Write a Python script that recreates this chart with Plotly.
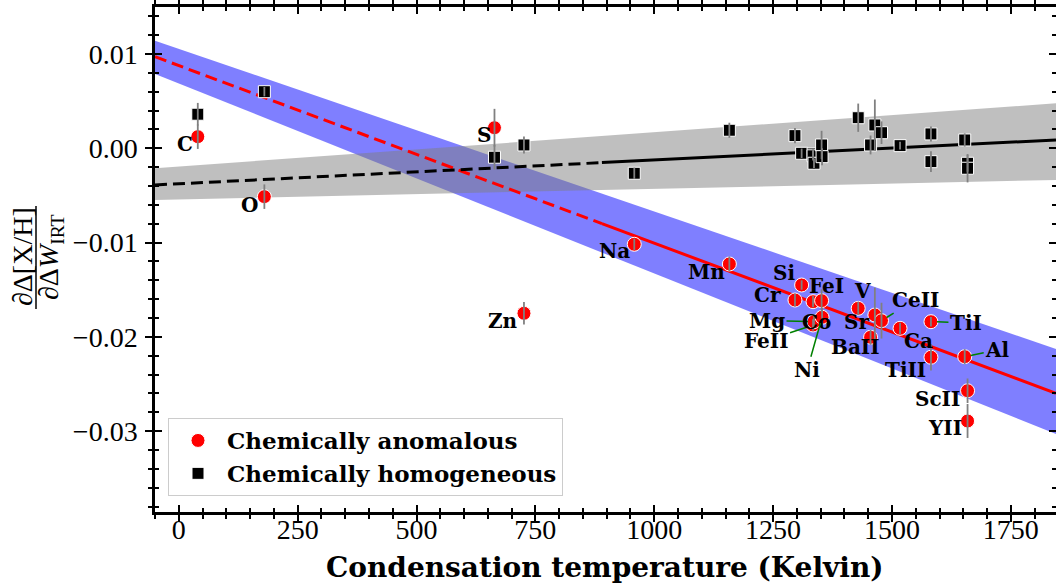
import plotly.graph_objects as go

# ---- data -------------------------------------------------------------
elements = ["C", "O", "S", "Zn", "Na", "Mn", "Cr", "Si", "FeI", "FeII", "Mg", "Co", "Ni",
            "V", "BaII", "Sr", "CeII", "Ca", "TiI", "TiII", "Al", "ScII", "YII"]
tcond = [40, 180, 664, 726, 958, 1158, 1296, 1310, 1334, 1334, 1336, 1352, 1353,
         1429, 1455, 1464, 1478, 1517, 1582, 1582, 1653, 1659, 1659]

# chemically anomalous pair
anom_slope = [0.00123, -0.00513, 0.00218, -0.01750, -0.01018, -0.01227, -0.01609,
              -0.01450, -0.01627, -0.01874, -0.01839, -0.01616, -0.01792, -0.01697,
              -0.02004, -0.01768, -0.01828, -0.01909, -0.01839, -0.02216, -0.02210,
              -0.02571, -0.02892]
anom_err = [0.0013, 0.0013, 0.0020, 0.0012, 0.0006, 0.0008, 0.0007, 0.0005, 0.0006,
            0.0006, 0.0006, 0.0012, 0.0010, 0.0007, 0.0008, 0.0029, 0.0019, 0.0006,
            0.0005, 0.0014, 0.0008, 0.0013, 0.0018]

# chemically homogeneous pair
homog_slope = [0.00361, 0.00600, -0.00095, 0.00035, -0.00265, 0.00191, 0.00134,
               -0.00053, -0.00060, -0.00080, -0.00159, 0.00035, -0.00089, 0.00324,
               0.00035, 0.00247, 0.00165, 0.00028, 0.00152, -0.00142, 0.00088,
               -0.00159, -0.00212]
homog_err = [0.0012, 0.0005, 0.0013, 0.0009, 0.0006, 0.0008, 0.0008, 0.0005, 0.0005,
             0.0005, 0.0005, 0.0015, 0.0009, 0.0015, 0.0010, 0.0027, 0.0012, 0.0004,
             0.0008, 0.0011, 0.0007, 0.0009, 0.0015]

# linear fits: value at the left edge, at the start of the fitted range, at the right edge
fit_t = [-50, 890, 1845]
anom_fit = [0.00971, -0.00799, -0.02598]
homog_fit = [-0.00389, -0.00152, 0.00088]

# 1-sigma bands (upper / lower edge at the two plot edges)
band_t = [-50, 1845]
anom_band_hi = [0.01141, -0.02128]
anom_band_lo = [0.00788, -0.03030]
homog_band_hi = [-0.00212, 0.00477]
homog_band_lo = [-0.00548, -0.00336]

x_ticks = [0, 250, 500, 750, 1000, 1250, 1500, 1750]
y_ticks = [-0.03, -0.02, -0.01, 0.00, 0.01]

# ---- layout geometry ----------------------------------------------------
W, H = 1056, 587
ML, MR, MT, MB = 155, 0, 7, 75
PW, PH = W - ML - MR, H - MT - MB
XR = [-50, 1845]
YR = [-0.03857, 0.01498]


def px_x(p):
    return (p - ML) / PW


def px_y(p):
    return (H - MB - p) / PH


# label placement: (dx, dy) in pixels from the point, and whether a leader line is drawn
label_pos = {
    "C": (-13, 7, False), "O": (-15, 8, False), "S": (-10, 7, False),
    "Zn": (-21, 8, False), "Na": (-20, 7, False), "Mn": (-23, 8, False),
    "Cr": (-27, -5, False), "Si": (-18, -12, False), "FeI": (13, -16, False),
    "FeII": (-47, 16, True), "Mg": (-47, -1, True), "Co": (-5, 21, False),
    "Ni": (-15, 53, True), "V": (4, -17, False), "BaII": (-15, 10, False),
    "Sr": (-18, 7, False), "CeII": (34, -21, True), "Ca": (18, 13, False),
    "TiI": (35, 1, True), "TiII": (-25, 13, False), "Al": (33, -7, True),
    "ScII": (-30, 8, False), "YII": (-23, 7, False),
}

SERIF = "Liberation Serif"
BOLD = "DejaVu Serif"

fig = go.Figure()

# bands
fig.add_trace(go.Scatter(
    x=band_t + band_t[::-1], y=anom_band_hi + anom_band_lo[::-1],
    fill="toself", fillcolor="rgba(0,0,255,0.5)", mode="lines",
    line=dict(width=0), hoverinfo="skip", showlegend=False))
fig.add_trace(go.Scatter(
    x=band_t + band_t[::-1], y=homog_band_hi + homog_band_lo[::-1],
    fill="toself", fillcolor="rgba(128,128,128,0.5)", mode="lines",
    line=dict(width=0), hoverinfo="skip", showlegend=False))

# fit lines: dashed extrapolation, solid over the fitted range
for vals, col in ((anom_fit, "red"), (homog_fit, "black")):
    fig.add_trace(go.Scatter(x=fit_t[:2], y=vals[:2], mode="lines",
                             line=dict(color=col, width=3, dash="12px,6px"),
                             hoverinfo="skip", showlegend=False))
    fig.add_trace(go.Scatter(x=fit_t[1:], y=vals[1:], mode="lines",
                             line=dict(color=col, width=3),
                             hoverinfo="skip", showlegend=False))

# points
fig.add_trace(go.Scatter(
    x=tcond, y=anom_slope, mode="markers", name="Chemically anomalous",
    marker=dict(symbol="circle", size=14, color="red",
                line=dict(color="white", width=1))))
fig.add_trace(go.Scatter(
    x=tcond, y=homog_slope, mode="markers", name="Chemically homogeneous",
    marker=dict(symbol="square", size=12, color="black",
                line=dict(color="white", width=1))))

# error bars on top of the markers
for vals, errs in ((anom_slope, anom_err), (homog_slope, homog_err)):
    fig.add_trace(go.Scatter(
        x=tcond, y=vals, mode="markers", marker=dict(size=1, opacity=0),
        error_y=dict(type="data", array=errs, color="rgb(128,128,128)",
                     thickness=1.8, width=0),
        hoverinfo="skip", showlegend=False))

# empty trace that carries the overlay axes (inner half of the ticks)
fig.add_trace(go.Scatter(x=[None], y=[None], xaxis="x2", yaxis="y2",
                         showlegend=False, hoverinfo="skip"))

annotations = []
for el, t, v in zip(elements, tcond, anom_slope):
    dx, dy, leader = label_pos[el]
    common = dict(x=t, y=v, xref="x", yref="y", text=el,
                  font=dict(family=BOLD, size=20, color="black", weight="bold"))
    if leader:
        annotations.append(dict(showarrow=True, ax=dx, ay=dy, arrowhead=0,
                                arrowwidth=1.5, arrowcolor="green", standoff=6,
                                **common))
    else:
        annotations.append(dict(showarrow=False, xshift=dx, yshift=-dy, **common))

# axis titles
annotations.append(dict(
    x=px_x(605), y=px_y(567), xref="paper", yref="paper", showarrow=False,
    text="Condensation temperature (Kelvin)", xanchor="center", yanchor="middle",
    font=dict(family=BOLD, size=28, color="black", weight="bold")))
annotations.append(dict(
    x=px_x(22), y=px_y(257), xref="paper", yref="paper", showarrow=False,
    text="∂Δ[X/H]", textangle=-90, xanchor="center", yanchor="middle",
    font=dict(family=SERIF, size=28, color="black")))
annotations.append(dict(
    x=px_x(50), y=px_y(257), xref="paper", yref="paper", showarrow=False,
    text="∂Δ<i>W</i><sub>IRT</sub>", textangle=-90, xanchor="center",
    yanchor="middle", font=dict(family=SERIF, size=28, color="black")))

shapes = [dict(type="line", xref="paper", yref="paper",
               x0=px_x(36), x1=px_x(36), y0=px_y(206), y1=px_y(309),
               line=dict(color="black", width=1.5))]

axis_common = dict(showgrid=False, zeroline=False, showline=True, linecolor="black",
                   linewidth=2.5, mirror="ticks", tickcolor="black", tickwidth=2,
                   automargin=False)

fig.update_layout(
    width=W, height=H, margin=dict(l=ML, r=MR, t=MT, b=MB, autoexpand=False),
    plot_bgcolor="white", paper_bgcolor="white",
    xaxis=dict(range=XR, tickvals=x_ticks, ticks="outside", ticklen=7,
               ticklabelstandoff=-16,
               minor=dict(ticks="outside", ticklen=4, tickwidth=1.5, dtick=50,
                          tick0=0, tickcolor="black"),
               tickfont=dict(family=SERIF, size=28, color="black"), **axis_common),
    yaxis=dict(range=YR, tickvals=y_ticks, tickformat=".2f", ticks="outside",
               ticklen=7, ticklabelstandoff=2,
               minor=dict(ticks="outside", ticklen=4, tickwidth=1.5, dtick=0.002,
                          tick0=0, tickcolor="black"),
               tickfont=dict(family=SERIF, size=28, color="black"), **axis_common),
    xaxis2=dict(range=XR, overlaying="x", anchor="y2", side="bottom",
                tickvals=x_ticks, ticks="inside", ticklen=7, showticklabels=False,
                minor=dict(ticks="inside", ticklen=4, tickwidth=1.5, dtick=50,
                           tick0=0, tickcolor="black"), **axis_common),
    yaxis2=dict(range=YR, overlaying="y", anchor="x2", side="left",
                tickvals=y_ticks, ticks="inside", ticklen=7, showticklabels=False,
                minor=dict(ticks="inside", ticklen=4, tickwidth=1.5, dtick=0.002,
                           tick0=0, tickcolor="black"), **axis_common),
    legend=dict(x=px_x(168), y=px_y(496), xanchor="left", yanchor="bottom",
                bgcolor="rgba(255,255,255,0.8)", bordercolor="#cccccc",
                borderwidth=1, itemwidth=48, tracegroupgap=0,
                font=dict(family=BOLD, size=23, color="black", weight="bold")),
    annotations=annotations, shapes=shapes, showlegend=True,
)

fig.write_html("out.html")
